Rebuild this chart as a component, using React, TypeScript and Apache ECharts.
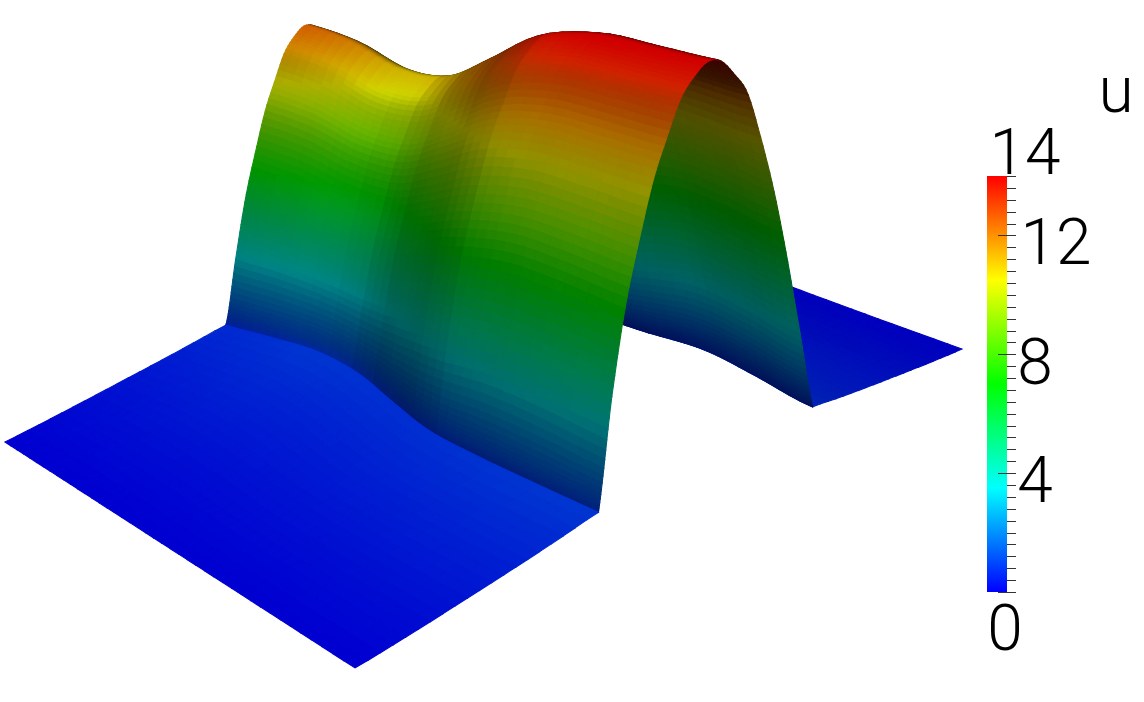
import React, { useEffect, useRef } from "react";
import * as echarts from "echarts";

// --- values ---
// along-ridge stations (0 = back-left edge, 1 = front-right edge)
const ROW_Q = [0, 0.125, 0.25, 0.375, 0.5, 0.625, 0.75, 0.875, 1];
// crest height of the ridge at each station
const CREST_U = [12.4, 11.9, 11.0, 11.1, 12.3, 13.6, 14, 14, 14];
// where the ridge rises from the plate, as a fraction of the plate width
const NEAR_FOOT = [0.43, 0.44, 0.447, 0.44, 0.415, 0.39, 0.38, 0.375, 0.374];
const FAR_FOOT = [0.75, 0.76, 0.77, 0.775, 0.778, 0.775, 0.778, 0.757, 0.732];
// height of the plate at the two feet
const NEAR_BASE_U = [0.7, 0.8, 0.9, 0.85, 0.8, 0.8, 0.85, 0.9, 0.9];
const FAR_BASE_U = [0.7, 0.7, 0.7, 0.7, 0.7, 0.7, 0.7, 0.7, 0.7];
// cross-section of the ridge, foot to foot, and how full it is at each station
const PROFILE = [0, 0.235, 0.445, 0.6, 0.74, 0.84, 0.93, 0.975, 1, 0.985, 0.93, 0.86, 0.72, 0.56, 0.37, 0.17, 0];
const PROFILE_POWER = [1, 1, 1, 1, 0.95, 0.9, 0.85, 0.85, 0.88];
// rise of the plate from its outer edge to the foot
const PLATE_TAIL = [0, 0.1, 0.22, 0.36, 0.5, 0.65, 0.82, 1];

const COLOR_U = [0, 3.5, 7, 10.5, 14];
const COLOR_RGB = [
  [0, 0, 255],
  [0, 255, 255],
  [0, 255, 0],
  [255, 255, 0],
  [255, 0, 0],
];
const BAR_RANGE = [0, 14];
const MINOR_STEP = 0.4;
const MAJOR_TICKS = [0, 4, 8, 12];
const TITLE = "u";
const BAR_LABELS = ["14", "12", "8", "4", "0"];

// --- view ---
const H = { a: 534, b: 257.3, c: 5, d: -204.6, e: 51.5, f: 442, g: 0.089, h: -0.2612 };
const HEIGHT_SCALE = 23.7;
const FAR_EDGE_LIFT = 47;
const VIEW = [0.2, -0.42, 0.8];
const VIEW_BACK = [0, -0.55, 0.5];
const WORLD = [490, 800, 38];
const GAMMA = 1.25;
const MAX_LIT = 0.82;
const MIN_LIT = 0.22;
const STRIP_ROWS = 3;
const STRIP_MIX = 0.35;

function spline(arr: number[], s: number) {
  const n = arr.length - 1;
  const f = Math.max(0, Math.min(1, s)) * n;
  const i = Math.min(n - 1, Math.floor(f));
  const t = f - i;
  const p0 = arr[Math.max(0, i - 1)];
  const p1 = arr[i];
  const p2 = arr[i + 1];
  const p3 = arr[Math.min(n, i + 2)];
  return (
    0.5 *
    (2 * p1 + (p2 - p0) * t + (2 * p0 - 5 * p1 + 4 * p2 - p3) * t * t + (3 * p1 - p0 - 3 * p2 + p3) * t * t * t)
  );
}

const N_TAIL = 20;
const N_BAND = 120;
const N_ROWS = 42;
const N_COLS = N_TAIL * 2 + N_BAND;

function vertex(c: number, r: number) {
  const q = r / N_ROWS;
  const near = spline(NEAR_FOOT, q);
  const far = spline(FAR_FOOT, q);
  const nb = spline(NEAR_BASE_U, q);
  const fb = spline(FAR_BASE_U, q);
  const crest = spline(CREST_U, q);
  if (c <= N_TAIL) {
    const s = c / N_TAIL;
    return { p: near * s, q, u: nb * Math.max(0, spline(PLATE_TAIL, s)), lift: 0 };
  }
  if (c >= N_TAIL + N_BAND) {
    const s = (c - N_TAIL - N_BAND) / N_TAIL;
    return {
      p: far + (1 - far) * s,
      q,
      u: fb * Math.max(0, spline(PLATE_TAIL, 1 - s)),
      lift: FAR_EDGE_LIFT * s * (1 - q),
    };
  }
  const k = (c - N_TAIL) / N_BAND;
  const t = (1 - Math.cos(Math.PI * k)) / 2;
  const base = nb + (fb - nb) * t;
  const shape = Math.pow(Math.max(0, spline(PROFILE, t)), spline(PROFILE_POWER, q));
  return {
    p: near + (far - near) * t,
    q,
    u: base + (crest - base) * shape,
    lift: 0,
  };
}

function buildMesh() {
  const v: any[][] = [];
  for (let c = 0; c <= N_COLS; c++) {
    const col = [];
    for (let r = 0; r <= N_ROWS; r++) {
      const m = vertex(c, r);
      const w = 1 + H.g * m.p + H.h * m.q;
      const rise = (m.u * HEIGHT_SCALE) / w;
      col.push({
        ...m,
        x: (H.a * m.p + H.b * m.q + H.c) / w,
        y: (H.d * m.p + H.e * m.q + H.f) / w - rise - m.lift,
        lit: 0,
      });
    }
    v.push(col);
  }
  for (let c = 0; c <= N_COLS; c++) {
    for (let r = 0; r <= N_ROWS; r++) {
      const a = v[Math.max(0, c - 1)][r];
      const b = v[Math.min(N_COLS, c + 1)][r];
      const d = v[c][Math.max(0, r - 1)];
      const e = v[c][Math.min(N_ROWS, r + 1)];
      const tp = [(b.q - a.q) * WORLD[0], (b.p - a.p) * WORLD[1], (b.u - a.u) * WORLD[2]];
      const tq = [(e.q - d.q) * WORLD[0], (e.p - d.p) * WORLD[1], (e.u - d.u) * WORLD[2]];
      // upward-facing normal
      const n = [
        -(tp[1] * tq[2] - tp[2] * tq[1]),
        -(tp[2] * tq[0] - tp[0] * tq[2]),
        -(tp[0] * tq[1] - tp[1] * tq[0]),
      ];
      const len = Math.hypot(n[0], n[1], n[2]) || 1;
      let dot = (n[0] * VIEW[0] + n[1] * VIEW[1] + n[2] * VIEW[2]) / len;
      if (dot < 0) dot = Math.abs((n[0] * VIEW_BACK[0] + n[1] * VIEW_BACK[1] + n[2] * VIEW_BACK[2]) / len);
      v[c][r].lit = Math.max(MIN_LIT, Math.min(MAX_LIT, Math.pow(dot, GAMMA) * 1.05));
    }
  }
  return v;
}

function stripLit(mesh: any[][], c: number, r: number) {
  const start = Math.floor(r / STRIP_ROWS) * STRIP_ROWS;
  let sum = 0;
  for (let i = start; i < start + STRIP_ROWS; i++) {
    sum +=
      (mesh[c][i].lit + mesh[c + 1][i].lit + mesh[c + 1][i + 1].lit + mesh[c][i + 1].lit) / 4;
  }
  return sum / STRIP_ROWS;
}

function colorOf(u: number, lit: number) {
  let i = 0;
  while (i < COLOR_U.length - 2 && u > COLOR_U[i + 1]) i++;
  const t = Math.max(0, Math.min(1, (u - COLOR_U[i]) / (COLOR_U[i + 1] - COLOR_U[i])));
  const ch = [0, 1, 2].map((k) => Math.round((COLOR_RGB[i][k] + (COLOR_RGB[i + 1][k] - COLOR_RGB[i][k]) * t) * lit));
  return `rgb(${ch[0]},${ch[1]},${ch[2]})`;
}

export default function App() {
  const ref = useRef<HTMLDivElement>(null);
  useEffect(() => {
    document.body.style.margin = "0";
    const chart = echarts.init(ref.current!, undefined, { renderer: "svg" });
    const mesh = buildMesh();
    const cells: number[][] = [];
    for (let c = N_COLS - 1; c >= 0; c--) for (let r = 0; r < N_ROWS; r++) cells.push([c, r]);

    const labelPlace = [
      { x: 1025, y: 152 },
      { x: 1056, y: 242 },
      { x: 1035, y: 362 },
      { x: 1035, y: 480 },
      { x: 1005, y: 628 },
    ];
    const textFont = "300 64px Roboto";
    const minorTicks: number[][] = [];
    for (let i = 0; i * MINOR_STEP <= BAR_RANGE[1] + 1e-6; i++) minorTicks.push([1, i * MINOR_STEP, 1.45]);
    const majorTicks = MAJOR_TICKS.map((v) => [0.55, v, 1.45]);

    chart.setOption({
      animation: false,
      backgroundColor: "#ffffff",
      grid: [
        { left: 0, top: 0, width: 1144, height: 702 },
        { left: 987, top: 176, width: 20, height: 416 },
      ],
      xAxis: [
        { type: "value", gridIndex: 0, min: 0, max: 1144, show: false },
        { type: "value", gridIndex: 1, min: 0, max: 1, show: false },
      ],
      yAxis: [
        { type: "value", gridIndex: 0, min: 0, max: 702, inverse: true, show: false },
        { type: "value", gridIndex: 1, min: BAR_RANGE[0], max: BAR_RANGE[1], show: false },
      ],
      series: [
        {
          type: "custom",
          coordinateSystem: "cartesian2d",
          xAxisIndex: 0,
          yAxisIndex: 0,
          progressive: 0,
          silent: true,
          clip: false,
          z: 2,
          data: cells,
          renderItem: (_p: any, api: any) => {
            const c = api.value(0);
            const r = api.value(1);
            const q = [mesh[c][r], mesh[c + 1][r], mesh[c + 1][r + 1], mesh[c][r + 1]];
            const u = (q[0].u + q[1].u + q[2].u + q[3].u) / 4;
            const smooth = (q[0].lit + q[1].lit + q[2].lit + q[3].lit) / 4;
            const lit = smooth * (1 - STRIP_MIX) + stripLit(mesh, c, r) * STRIP_MIX;
            const fill = colorOf(u, lit);
            return {
              type: "polygon",
              shape: { points: q.map((m) => api.coord([m.x, m.y])) },
              style: { fill, stroke: fill, lineWidth: 1.1 },
            };
          },
        },
        {
          type: "custom",
          coordinateSystem: "cartesian2d",
          xAxisIndex: 1,
          yAxisIndex: 1,
          silent: true,
          z: 1,
          data: [[0, BAR_RANGE[0], 1, BAR_RANGE[1]]],
          renderItem: (_p: any, api: any) => {
            const lo = api.coord([api.value(0), api.value(1)]);
            const hi = api.coord([api.value(2), api.value(3)]);
            return {
              type: "rect",
              shape: { x: lo[0], y: hi[1], width: hi[0] - lo[0], height: lo[1] - hi[1] },
              style: {
                fill: new echarts.graphic.LinearGradient(
                  0,
                  1,
                  0,
                  0,
                  COLOR_U.map((v, i) => ({
                    offset: v / BAR_RANGE[1],
                    color: `rgb(${COLOR_RGB[i].join(",")})`,
                  })),
                ),
              },
            };
          },
        },
        {
          type: "custom",
          coordinateSystem: "cartesian2d",
          xAxisIndex: 1,
          yAxisIndex: 1,
          silent: true,
          clip: false,
          z: 3,
          data: [...minorTicks, ...majorTicks],
          renderItem: (_p: any, api: any) => {
            const a = api.coord([api.value(0), api.value(1)]);
            const b = api.coord([api.value(2), api.value(1)]);
            const y = Math.round(a[1]) + 0.5;
            return {
              type: "line",
              shape: { x1: a[0], y1: y, x2: b[0], y2: y },
              style: { stroke: "#333", lineWidth: 1 },
            };
          },
        },
      ],
      graphic: {
        elements: [
          ...BAR_LABELS.map((text, i) => ({
            type: "text",
            x: labelPlace[i].x,
            y: labelPlace[i].y,
            style: {
              text,
              fill: "#000",
              font: textFont,
              textAlign: "center",
              textVerticalAlign: "middle",
            },
          })),
          {
            type: "text",
            x: 1116,
            y: 90,
            style: {
              text: TITLE,
              fill: "#000",
              font: textFont,
              textAlign: "center",
              textVerticalAlign: "middle",
            },
          },
        ],
      },
    });
    return () => chart.dispose();
  }, []);
  return <div ref={ref} style={{ width: 1144, height: 702, display: "block" }} />;
}
